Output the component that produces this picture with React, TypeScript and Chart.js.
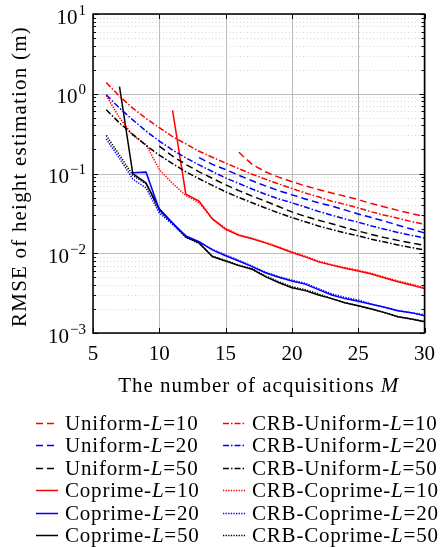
import React, { useEffect, useRef } from "react";
import { Chart, registerables } from "chart.js";

Chart.register(...registerables);

// ---------------- data ----------------
const M = [6, 7, 8, 9, 10, 11, 12, 13, 14, 15, 16, 17, 18, 19, 20, 21, 22, 23, 24, 25, 26, 27, 28, 29, 30];
const X_TICKS = [5, 10, 15, 20, 25, 30];
const Y_EXPONENTS = [-3, -2, -1, 0, 1];

const uniformL10 = [null, null, null, null, null, null, null, null, null, null,
  0.185, 0.13, 0.105, 0.09, 0.079, 0.07, 0.063, 0.057, 0.052, 0.047, 0.042, 0.038, 0.0345, 0.0315, 0.029];
const uniformL20 = [null, null, null, null, null, null, null,
  0.158, 0.13, 0.112, 0.095, 0.081, 0.07, 0.061, 0.054, 0.048, 0.043, 0.039, 0.035, 0.031, 0.028, 0.0252, 0.0225, 0.0201, 0.018];
const uniformL50 = [null, null, null, null,
  0.22, 0.165, 0.13, 0.105, 0.087, 0.072, 0.061, 0.052, 0.045, 0.0385, 0.033, 0.029, 0.026, 0.0235, 0.021, 0.019, 0.0172, 0.0157, 0.0145, 0.0135, 0.0125];
const crbUniformL10 = [1.38, 0.93, 0.66, 0.49, 0.375, 0.29, 0.235, 0.19, 0.16, 0.135, 0.115, 0.098, 0.085, 0.074, 0.065, 0.057, 0.051, 0.045, 0.041, 0.037, 0.033, 0.03, 0.0275, 0.025, 0.023];
const crbUniformL20 = [0.97, 0.66, 0.47, 0.34, 0.255, 0.197, 0.157, 0.128, 0.106, 0.088, 0.075, 0.064, 0.055, 0.048, 0.043, 0.038, 0.0335, 0.03, 0.027, 0.0245, 0.022, 0.02, 0.0182, 0.0168, 0.0155];
const crbUniformL50 = [0.63, 0.43, 0.31, 0.225, 0.17, 0.133, 0.105, 0.086, 0.071, 0.059, 0.05, 0.043, 0.037, 0.032, 0.028, 0.0248, 0.022, 0.0198, 0.018, 0.0165, 0.015, 0.0138, 0.0127, 0.0118, 0.011];
const coprimeL10 = [null, null, null, null, null,
  0.62, 0.055, 0.045, 0.027, 0.02, 0.0168, 0.0152, 0.0135, 0.0118, 0.0102, 0.009, 0.0078, 0.0071, 0.0065, 0.006, 0.0055, 0.0049, 0.0044, 0.004, 0.0036];
const crbCoprimeL10 = [0.95, 0.5, 0.3, 0.23, 0.112, 0.075, 0.053, 0.043, 0.0272, 0.0205, 0.017, 0.0154, 0.0137, 0.012, 0.0104, 0.0092, 0.008, 0.0072, 0.0066, 0.0061, 0.0056, 0.005, 0.0045, 0.0041, 0.0037];
const coprimeL20 = [null, null,
  0.102, 0.104, 0.035, 0.024, 0.0165, 0.014, 0.011, 0.0093, 0.008, 0.0068, 0.0057, 0.005, 0.0045, 0.0041, 0.0035, 0.003, 0.0027, 0.0025, 0.0023, 0.0021, 0.0019, 0.0018, 0.00165];
const crbCoprimeL20 = [0.27, 0.155, 0.085, 0.066, 0.032, 0.023, 0.0162, 0.0138, 0.0112, 0.0095, 0.0081, 0.0069, 0.0058, 0.0051, 0.0046, 0.0042, 0.0036, 0.0031, 0.0028, 0.0026, 0.0023, 0.0021, 0.0019, 0.0018, 0.0017];
const coprimeL50 = [null,
  1.23, 0.1, 0.076, 0.036, 0.024, 0.016, 0.0135, 0.0091, 0.008, 0.007, 0.0063, 0.0051, 0.0043, 0.0037, 0.0034, 0.003, 0.0027, 0.0024, 0.0022, 0.002, 0.0018, 0.0016, 0.0015, 0.00138];
const crbCoprimeL50 = [0.3, 0.17, 0.095, 0.074, 0.034, 0.0235, 0.0158, 0.0133, 0.0092, 0.0081, 0.0071, 0.0064, 0.0052, 0.0044, 0.0038, 0.0035, 0.0031, 0.0027, 0.0024, 0.0022, 0.002, 0.0018, 0.0016, 0.0015, 0.0014];

const LEGEND_PREFIXES = ["Uniform-", "CRB-Uniform-", "Uniform-", "CRB-Uniform-", "Uniform-", "CRB-Uniform-",
  "Coprime-", "CRB-Coprime-", "Coprime-", "CRB-Coprime-", "Coprime-", "CRB-Coprime-"];
const LEGEND_L = ["10", "10", "20", "20", "50", "50", "10", "10", "20", "20", "50", "50"];

// ---------------- styles ----------------
const W = 444;
const H = 547;
const FONT = '"Liberation Serif", "Times New Roman", serif';
const RED = "#ff0000";
const BLUE = "#0000ff";
const BLACK = "#000000";
const DASH = [7, 4];
const DASHDOT = [6, 2, 1.5, 2];
const DOT = [1.3, 1.3];
const SOLID: number[] = [];

const SERIES = [
  { data: uniformL10, color: RED, dash: DASH },
  { data: crbUniformL10, color: RED, dash: DASHDOT },
  { data: uniformL20, color: BLUE, dash: DASH },
  { data: crbUniformL20, color: BLUE, dash: DASHDOT },
  { data: uniformL50, color: BLACK, dash: DASH },
  { data: crbUniformL50, color: BLACK, dash: DASHDOT },
  { data: coprimeL10, color: RED, dash: SOLID },
  { data: crbCoprimeL10, color: RED, dash: DOT },
  { data: coprimeL20, color: BLUE, dash: SOLID },
  { data: crbCoprimeL20, color: BLUE, dash: DOT },
  { data: coprimeL50, color: BLACK, dash: SOLID },
  { data: crbCoprimeL50, color: BLACK, dash: DOT },
];

function setSpacing(ctx: any, v: string) {
  try { ctx.letterSpacing = v; } catch (e) { /* ignore */ }
}

function drawRich(ctx: CanvasRenderingContext2D, parts: { t: string; it?: boolean }[], x: number, y: number, size: number, align: "left" | "center") {
  let total = 0;
  const widths = parts.map((p) => {
    ctx.font = `${p.it ? "italic " : ""}${size}px ${FONT}`;
    const w = ctx.measureText(p.t).width;
    total += w;
    return w;
  });
  let cx = align === "center" ? x - total / 2 : x;
  ctx.textAlign = "left";
  parts.forEach((p, i) => {
    ctx.font = `${p.it ? "italic " : ""}${size}px ${FONT}`;
    ctx.fillText(p.t, cx, y);
    cx += widths[i];
  });
}

const decorPlugin = {
  id: "decor",
  beforeDatasetsDraw(chart: any) {
    const { ctx, chartArea: a, scales } = chart;
    const x = scales.x;
    const y = scales.y;
    ctx.save();
    // minor horizontal dotted grid
    ctx.strokeStyle = "#d4d4d4";
    ctx.lineWidth = 1;
    ctx.setLineDash([1, 2.5]);
    for (let e = -3; e < 1; e++) {
      for (let k = 2; k <= 9; k++) {
        const py = Math.round(y.getPixelForValue(k * Math.pow(10, e))) + 0.5;
        ctx.beginPath();
        ctx.moveTo(a.left, py);
        ctx.lineTo(a.right, py);
        ctx.stroke();
      }
    }
    ctx.setLineDash([]);
    ctx.strokeStyle = "#bcbcbc";
    for (const e of Y_EXPONENTS) {
      const py = Math.round(y.getPixelForValue(Math.pow(10, e))) + 0.5;
      ctx.beginPath();
      ctx.moveTo(a.left, py);
      ctx.lineTo(a.right, py);
      ctx.stroke();
    }
    for (const t of X_TICKS) {
      const px = Math.round(x.getPixelForValue(t)) + 0.5;
      ctx.beginPath();
      ctx.moveTo(px, a.top);
      ctx.lineTo(px, a.bottom);
      ctx.stroke();
    }
    ctx.restore();
  },
  afterDatasetsDraw(chart: any) {
    const { ctx, chartArea: a, scales } = chart;
    const x = scales.x;
    const y = scales.y;
    ctx.save();
    ctx.strokeStyle = "#000";
    ctx.lineWidth = 1;
    // inward ticks left/right
    for (let e = -3; e <= 1; e++) {
      for (let k = 1; k <= 9; k++) {
        const v = k * Math.pow(10, e);
        if (v > 10.0001) break;
        const py = Math.round(y.getPixelForValue(v)) + 0.5;
        const len = k === 1 ? 5 : 3;
        ctx.beginPath();
        ctx.moveTo(a.left, py);
        ctx.lineTo(a.left + len, py);
        ctx.moveTo(a.right, py);
        ctx.lineTo(a.right - len, py);
        ctx.stroke();
      }
    }
    for (const t of X_TICKS) {
      const px = Math.round(x.getPixelForValue(t)) + 0.5;
      ctx.beginPath();
      ctx.moveTo(px, a.bottom);
      ctx.lineTo(px, a.bottom - 5);
      ctx.moveTo(px, a.top);
      ctx.lineTo(px, a.top + 5);
      ctx.stroke();
    }
    // frame
    ctx.lineWidth = 1.5;
    ctx.strokeRect(a.left, a.top, a.right - a.left, a.bottom - a.top);
    ctx.restore();
  },
  afterDraw(chart: any) {
    const { ctx, chartArea: a, scales } = chart;
    const y = scales.y;
    ctx.save();
    ctx.fillStyle = "#000";
    // y tick labels 10^e
    ctx.textBaseline = "alphabetic";
    for (const e of Y_EXPONENTS) {
      const py = y.getPixelForValue(Math.pow(10, e));
      const expText = e < 0 ? "\u2212" + String(-e) : String(e);
      ctx.font = `15px ${FONT}`;
      const ew = ctx.measureText(expText).width;
      const right = a.left - 7;
      ctx.textAlign = "right";
      ctx.fillText(expText, right, py + 0.5);
      ctx.font = `21px ${FONT}`;
      ctx.fillText("10", right - ew - 1, py + 9.5);
    }
    // y title
    ctx.save();
    ctx.translate(20, (a.top + a.bottom) / 2 + 3);
    ctx.rotate(-Math.PI / 2);
    setSpacing(ctx, "1.2px");
    ctx.font = `21px ${FONT}`;
    ctx.textAlign = "center";
    ctx.textBaseline = "middle";
    ctx.fillText("RMSE of height estimation (m)", 0, 0);
    ctx.restore();
    // x title
    setSpacing(ctx, "1px");
    ctx.textBaseline = "alphabetic";
    drawRich(ctx, [{ t: "The number of acquisitions " }, { t: "M", it: true }], (a.left + a.right) / 2, 392, 21, "center");
    // legend
    setSpacing(ctx, "0.8px");
    const rowY0 = 423;
    const rowStep = 22.4;
    const colLine = [36, 223];
    const colText = [65, 252];
    chart.data.datasets.forEach((ds: any, i: number) => {
      const row = Math.floor(i / 2);
      const col = i % 2;
      const ry = rowY0 + row * rowStep;
      ctx.save();
      setSpacing(ctx, "0px");
      ctx.strokeStyle = ds.borderColor;
      ctx.lineWidth = 1.5;
      ctx.setLineDash(ds.borderDash || []);
      ctx.beginPath();
      ctx.moveTo(colLine[col], Math.round(ry) + 0.5);
      ctx.lineTo(colLine[col] + 22, Math.round(ry) + 0.5);
      ctx.stroke();
      ctx.restore();
      ctx.fillStyle = "#000";
      drawRich(ctx, [{ t: LEGEND_PREFIXES[i] }, { t: "L", it: true }, { t: "=" + LEGEND_L[i] }], colText[col], ry + 7, 21, "left");
    });
    setSpacing(ctx, "0px");
    ctx.restore();
  },
};

export default function App() {
  const ref = useRef<HTMLCanvasElement | null>(null);
  useEffect(() => {
    if (!ref.current) return;
    const datasets = SERIES.map((s, i) => ({
      label: LEGEND_PREFIXES[i] + "L=" + LEGEND_L[i],
      data: M.map((m, j) => ({ x: m, y: s.data[j] })).filter((p) => p.y !== null),
      borderColor: s.color,
      backgroundColor: s.color,
      borderDash: s.dash,
      borderWidth: 1.5,
      pointRadius: 0,
      fill: false,
      tension: 0,
    }));
    const chart = new Chart(ref.current, {
      type: "line",
      data: { datasets },
      options: {
        animation: false,
        responsive: false,
        devicePixelRatio: 1,
        layout: { padding: { left: 93, right: 12, top: 14, bottom: H - 333 - 40 } },
        plugins: { legend: { display: false }, tooltip: { enabled: false }, title: { display: false } },
        scales: {
          x: {
            type: "linear",
            min: 5,
            max: 30,
            grid: { display: false, drawTicks: false },
            border: { display: false },
            ticks: {
              stepSize: 5,
              padding: 9,
              color: "#000",
              font: { family: FONT, size: 21 },
              maxRotation: 0,
            },
            afterFit: (s: any) => { s.height = 40; },
          },
          y: {
            type: "logarithmic",
            min: 0.001,
            max: 10,
            grid: { display: false, drawTicks: false },
            border: { display: false },
            ticks: { display: false },
            afterFit: (s: any) => { s.width = 0; },
          },
        },
      } as any,
      plugins: [decorPlugin],
    });
    return () => chart.destroy();
  }, []);
  return (
    <div style={{ position: "fixed", left: 0, top: 0, width: W, height: H, background: "#fff" }}>
      <canvas ref={ref} width={W} height={H} style={{ display: "block", width: W, height: H }} />
    </div>
  );
}
